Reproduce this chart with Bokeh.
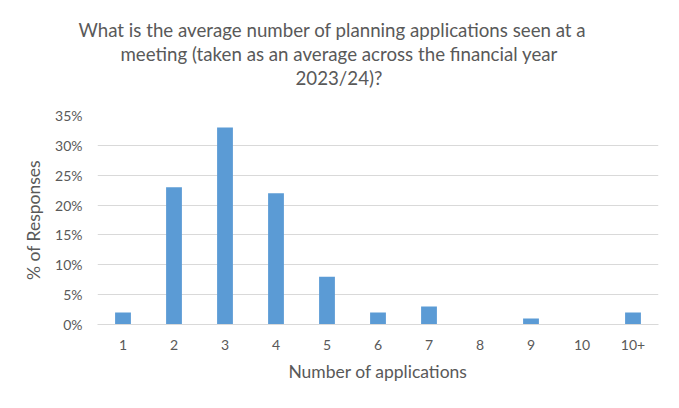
from bokeh.plotting import figure
from bokeh.models import FactorRange, Range1d, FixedTicker, PrintfTickFormatter, Title
from bokeh.embed import file_html
from bokeh.resources import INLINE

categories = ["1", "2", "3", "4", "5", "6", "7", "8", "9", "10", "10+"]
percent_responses = [2, 23, 33, 22, 8, 2, 3, 0, 1, 0, 2]
y_ticks = [0, 5, 10, 15, 20, 25, 30, 35]
title_lines = [
    "What is the average number of planning applications seen at a",
    "meeting (taken as an average across the financial year",
    "2023/24)?",
]

FONT = "Lato"
TEXT = "#595959"
GRID = "#D9D9D9"

p = figure(
    width=663, height=392,
    x_range=FactorRange(factors=categories),
    y_range=Range1d(0, 35),
    output_backend="svg", toolbar_location=None, title=None,
    min_border_left=97, min_border_right=5, min_border_top=115, min_border_bottom=68,
)
p.outline_line_color = None
p.background_fill_color = "white"
p.border_fill_color = "white"

p.vbar(x=categories, top=percent_responses, width=0.31, color="#5B9BD5", line_color=None)

p.xgrid.grid_line_color = None
p.ygrid.grid_line_color = GRID
p.ygrid.grid_line_width = 1
p.yaxis.ticker = FixedTicker(ticks=y_ticks)
p.yaxis.formatter = PrintfTickFormatter(format="%d%%")

for ax in (p.xaxis[0], p.yaxis[0]):
    ax.major_tick_line_color = None
    ax.minor_tick_line_color = None
    ax.major_tick_out = 0
    ax.major_tick_in = 0
    ax.minor_tick_out = 0
    ax.major_label_text_color = TEXT
    ax.major_label_text_font = FONT
    ax.major_label_text_font_size = "14px"
    ax.axis_label_text_color = TEXT
    ax.axis_label_text_font = FONT
    ax.axis_label_text_font_size = "17.5px"
    ax.axis_label_text_font_style = "normal"

p.xaxis.axis_line_color = GRID
p.yaxis.axis_line_color = None
p.xaxis.axis_label = "Number of applications"
p.yaxis.axis_label = "% of Responses"
p.xaxis.major_label_standoff = 15
p.xaxis.axis_label_standoff = 8
p.yaxis.major_label_standoff = 15
p.yaxis.axis_label_standoff = 8

# spacer between title block and plot area
p.add_layout(Title(text=" ", text_font_size="1px", standoff=24), "above")
offsets = [-19, 23, 198]
for txt, off in reversed(list(zip(title_lines, offsets))):
    p.add_layout(Title(text=txt, align="left", offset=off, standoff=0,
                       text_font=FONT, text_font_size="18.7px", text_color=TEXT,
                       text_font_style="normal"), "above")

open("out.html", "w").write(file_html(p, INLINE))
